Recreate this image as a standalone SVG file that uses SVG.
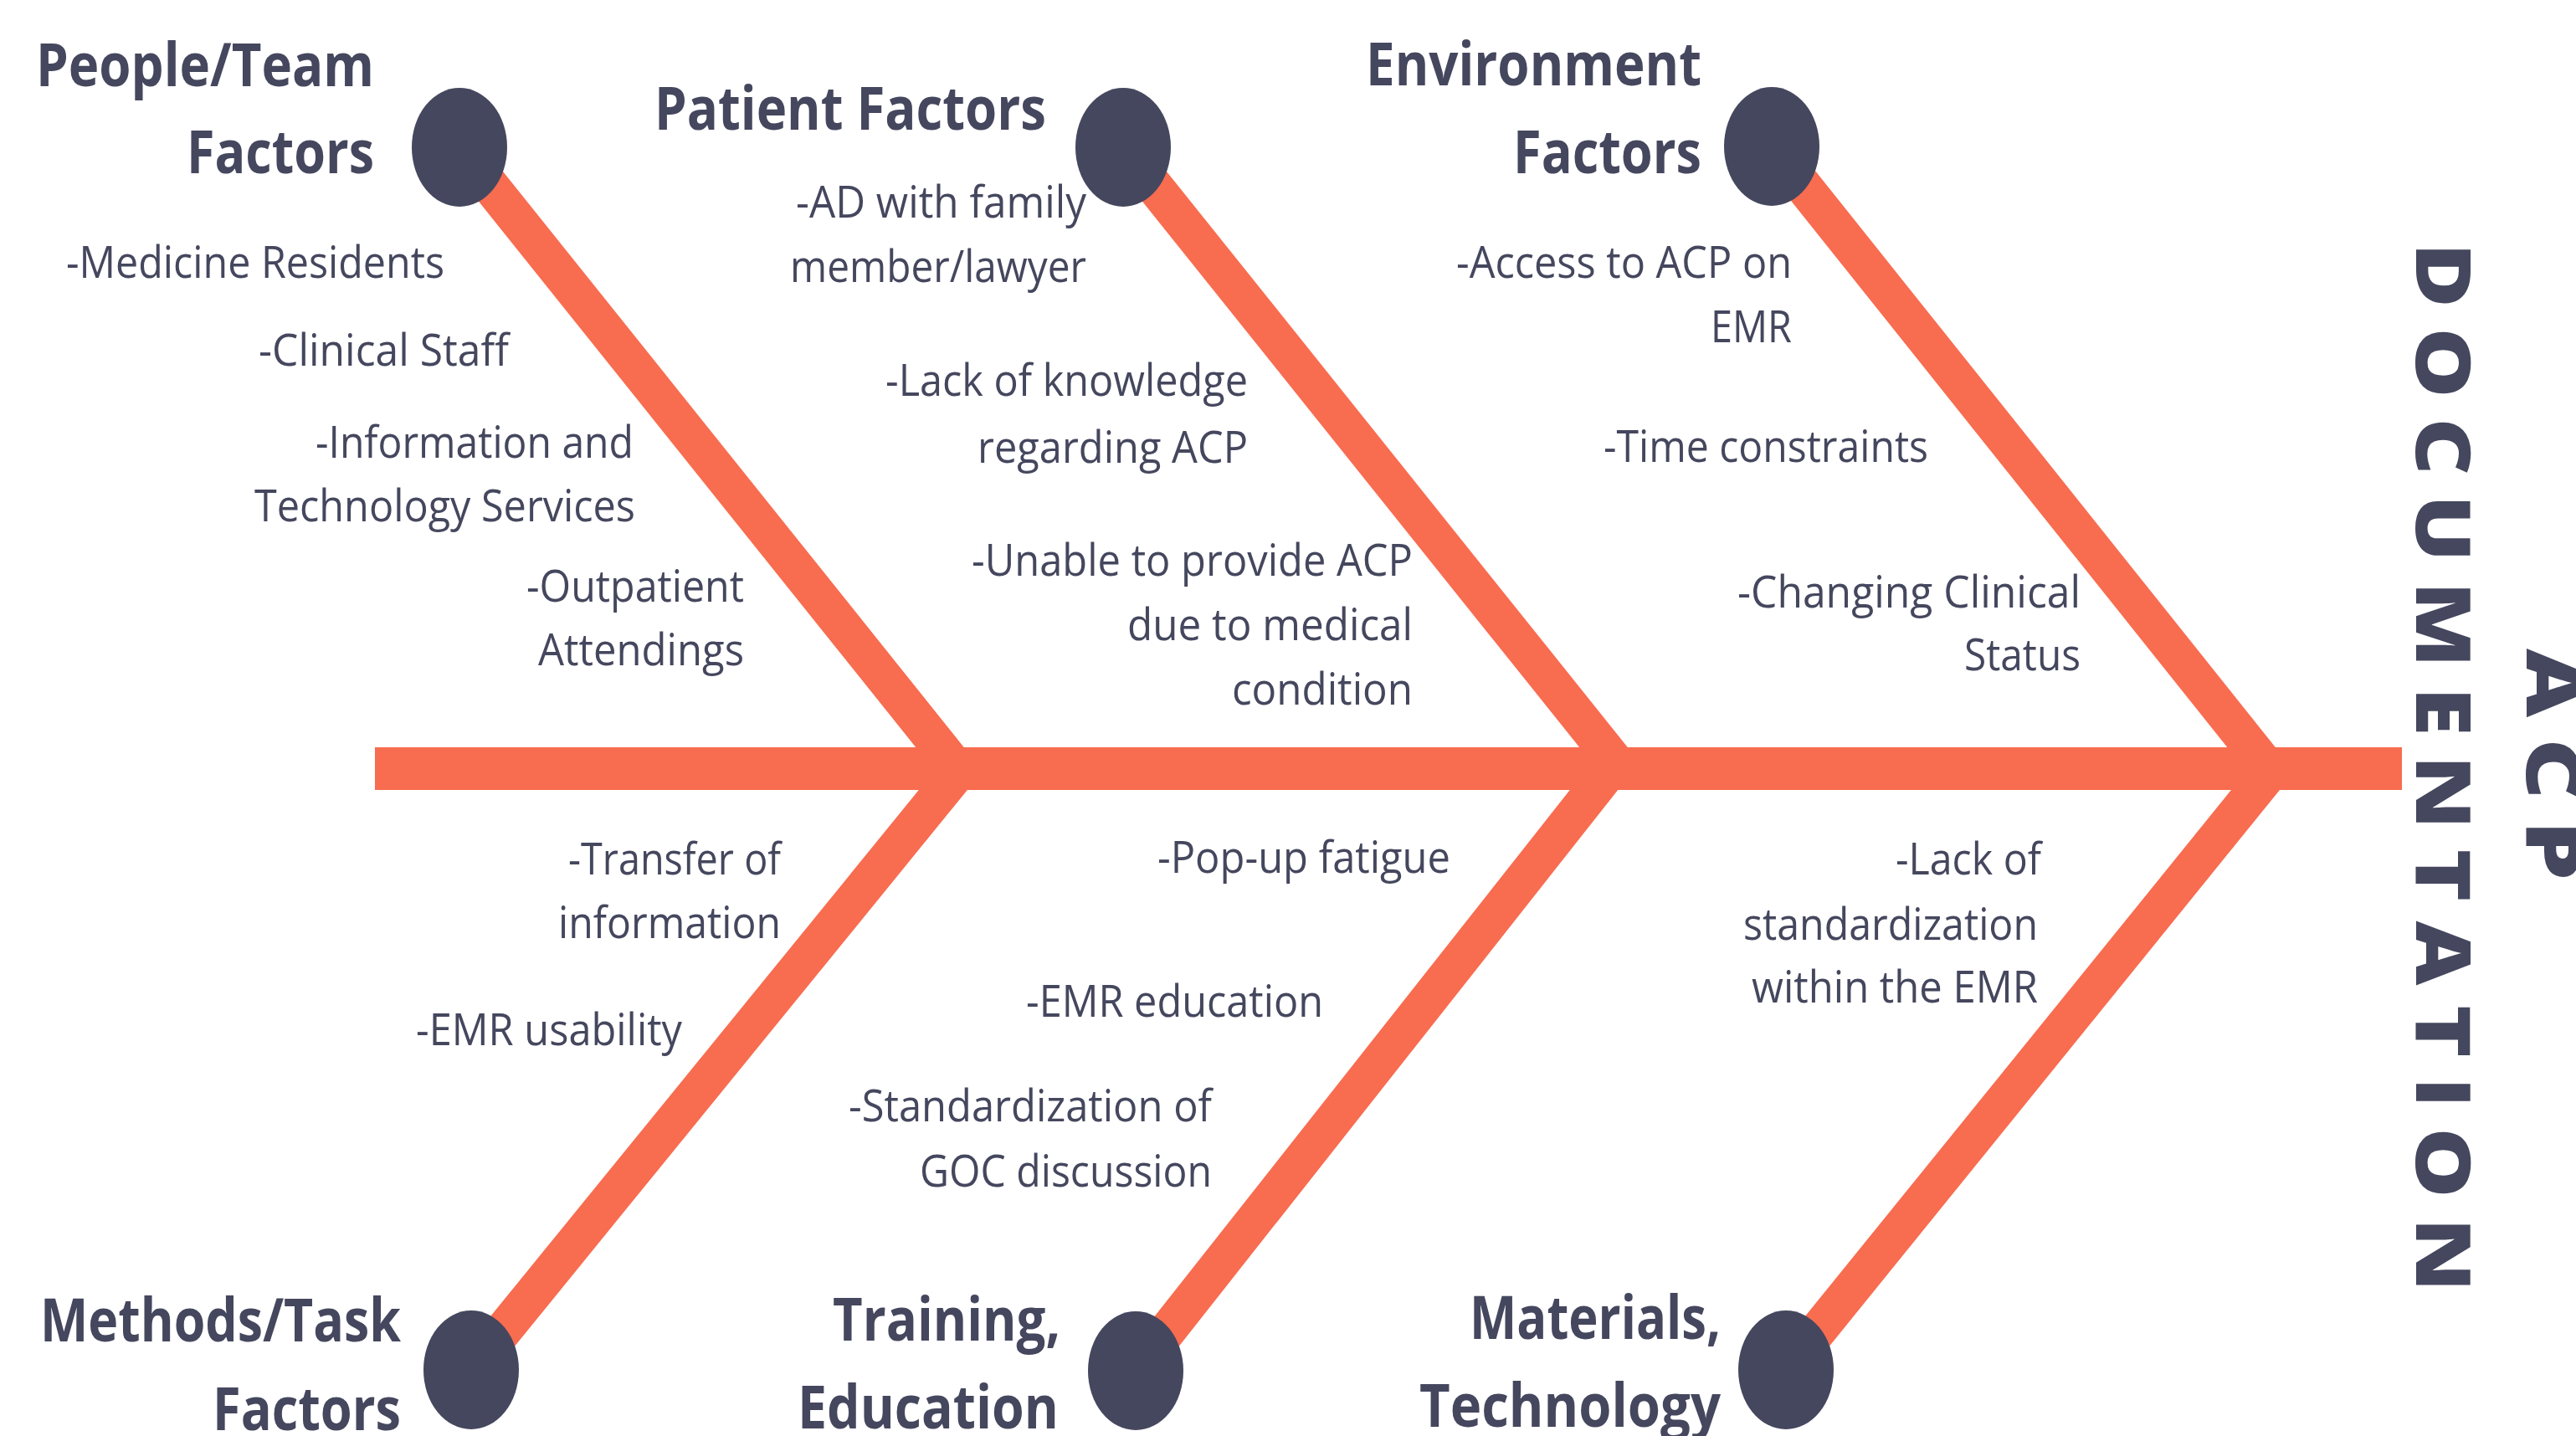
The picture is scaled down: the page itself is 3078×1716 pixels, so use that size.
<svg xmlns="http://www.w3.org/2000/svg" width="3078" height="1716" viewBox="0 0 3078 1716">
  <style>
    .bone { stroke: #F86C50; stroke-width: 45; stroke-linecap: butt; fill: none; }
    .head { fill: #45475E; }
    .hd { font-family: "Open Sans", "Liberation Sans", sans-serif; font-weight: 700; font-size: 72px; fill: #45475E; }
    .it { font-family: "Open Sans", "Liberation Sans", sans-serif; font-weight: 500; font-size: 53px; fill: #45475E; }
    .title { font-family: "Open Sans", "Liberation Sans", sans-serif; font-weight: 800; font-size: 91px; letter-spacing: 20px; fill: #45475E; }
  </style>
  <rect width="3078" height="1716" fill="#FFFFFF"/>

  <!-- spine and bones -->
  <g id="connectors">
    <rect x="448" y="893" width="2422" height="51" fill="#F86C50"/>
    <line class="bone" x1="549" y1="176" x2="1143" y2="918"/>
    <line class="bone" x1="1342" y1="176" x2="1936" y2="918"/>
    <line class="bone" x1="2117" y1="175" x2="2710" y2="918"/>
    <line class="bone" x1="1148" y1="918" x2="563" y2="1637"/>
    <line class="bone" x1="1925" y1="918" x2="1357" y2="1638"/>
    <line class="bone" x1="2716" y1="918" x2="2134" y2="1637"/>
  </g>

  <!-- upper branches -->
  <g id="people-team">
    <ellipse class="head" cx="549" cy="176" rx="57" ry="71"/>
    <text class="hd" x="43" y="103" textLength="404" lengthAdjust="spacingAndGlyphs">People/Team</text>
    <text class="hd" x="223" y="207" textLength="224" lengthAdjust="spacingAndGlyphs">Factors</text>
    <text class="it" x="79" y="332" textLength="452" lengthAdjust="spacingAndGlyphs">-Medicine Residents</text>
    <text class="it" x="309" y="437" textLength="299" lengthAdjust="spacingAndGlyphs">-Clinical Staff</text>
    <text class="it" x="377" y="547" textLength="380" lengthAdjust="spacingAndGlyphs">-Information and</text>
    <text class="it" x="304" y="623" textLength="455" lengthAdjust="spacingAndGlyphs">Technology Services</text>
    <text class="it" x="629" y="719" textLength="260" lengthAdjust="spacingAndGlyphs">-Outpatient</text>
    <text class="it" x="643" y="795" textLength="246" lengthAdjust="spacingAndGlyphs">Attendings</text>
  </g>

  <g id="patient">
    <ellipse class="head" cx="1342" cy="176" rx="57" ry="71"/>
    <text class="hd" x="782" y="155" textLength="468" lengthAdjust="spacingAndGlyphs">Patient Factors</text>
    <text class="it" x="951" y="260" textLength="347" lengthAdjust="spacingAndGlyphs">-AD with family</text>
    <text class="it" x="944" y="337" textLength="354" lengthAdjust="spacingAndGlyphs">member/lawyer</text>
    <text class="it" x="1058" y="473" textLength="433" lengthAdjust="spacingAndGlyphs">-Lack of knowledge</text>
    <text class="it" x="1168" y="553" textLength="323" lengthAdjust="spacingAndGlyphs">regarding ACP</text>
    <text class="it" x="1161" y="688" textLength="527" lengthAdjust="spacingAndGlyphs">-Unable to provide ACP</text>
    <text class="it" x="1347" y="765" textLength="341" lengthAdjust="spacingAndGlyphs">due to medical</text>
    <text class="it" x="1472" y="842" textLength="216" lengthAdjust="spacingAndGlyphs">condition</text>
  </g>

  <g id="environment">
    <ellipse class="head" cx="2117" cy="175" rx="57" ry="71"/>
    <text class="hd" x="1632" y="102" textLength="401" lengthAdjust="spacingAndGlyphs">Environment</text>
    <text class="hd" x="1808" y="207" textLength="225" lengthAdjust="spacingAndGlyphs">Factors</text>
    <text class="it" x="1740" y="332" textLength="401" lengthAdjust="spacingAndGlyphs">-Access to ACP on</text>
    <text class="it" x="2044" y="409" textLength="97" lengthAdjust="spacingAndGlyphs">EMR</text>
    <text class="it" x="1916" y="552" textLength="388" lengthAdjust="spacingAndGlyphs">-Time constraints</text>
    <text class="it" x="2076" y="726" textLength="410" lengthAdjust="spacingAndGlyphs">-Changing Clinical</text>
    <text class="it" x="2347" y="801" textLength="139" lengthAdjust="spacingAndGlyphs">Status</text>
  </g>

  <!-- lower branches -->
  <g id="methods-task">
    <ellipse class="head" cx="563" cy="1637" rx="57" ry="71"/>
    <text class="hd" x="48" y="1603" textLength="431" lengthAdjust="spacingAndGlyphs">Methods/Task</text>
    <text class="hd" x="254" y="1709" textLength="225" lengthAdjust="spacingAndGlyphs">Factors</text>
    <text class="it" x="679" y="1045" textLength="254" lengthAdjust="spacingAndGlyphs">-Transfer of</text>
    <text class="it" x="667" y="1121" textLength="266" lengthAdjust="spacingAndGlyphs">information</text>
    <text class="it" x="497" y="1249" textLength="318" lengthAdjust="spacingAndGlyphs">-EMR usability</text>
  </g>

  <g id="training-education">
    <ellipse class="head" cx="1357" cy="1638" rx="57" ry="71"/>
    <text class="hd" x="995" y="1602" textLength="272" lengthAdjust="spacingAndGlyphs">Training,</text>
    <text class="hd" x="953" y="1707" textLength="312" lengthAdjust="spacingAndGlyphs">Education</text>
    <text class="it" x="1383" y="1043" textLength="350" lengthAdjust="spacingAndGlyphs">-Pop-up fatigue</text>
    <text class="it" x="1226" y="1215" textLength="355" lengthAdjust="spacingAndGlyphs">-EMR education</text>
    <text class="it" x="1014" y="1340" textLength="434" lengthAdjust="spacingAndGlyphs">-Standardization of</text>
    <text class="it" x="1099" y="1418" textLength="349" lengthAdjust="spacingAndGlyphs">GOC discussion</text>
  </g>

  <g id="materials-technology">
    <ellipse class="head" cx="2134" cy="1637" rx="57" ry="71"/>
    <text class="hd" x="1756" y="1600" textLength="300" lengthAdjust="spacingAndGlyphs">Materials,</text>
    <text class="hd" x="1696" y="1705" textLength="360" lengthAdjust="spacingAndGlyphs">Technology</text>
    <text class="it" x="2265" y="1045" textLength="174" lengthAdjust="spacingAndGlyphs">-Lack of</text>
    <text class="it" x="2083" y="1123" textLength="352" lengthAdjust="spacingAndGlyphs">standardization</text>
    <text class="it" x="2093" y="1198" textLength="342" lengthAdjust="spacingAndGlyphs">within the EMR</text>
  </g>

  <!-- effect label, set vertically -->
  <g id="acp-documentation">
    <text class="title" transform="translate(3019,775) rotate(90)" textLength="302" lengthAdjust="spacingAndGlyphs">ACP</text>
    <text class="title" transform="translate(2887,290) rotate(90)" textLength="1277" lengthAdjust="spacingAndGlyphs">DOCUMENTATION</text>
  </g>
</svg>
